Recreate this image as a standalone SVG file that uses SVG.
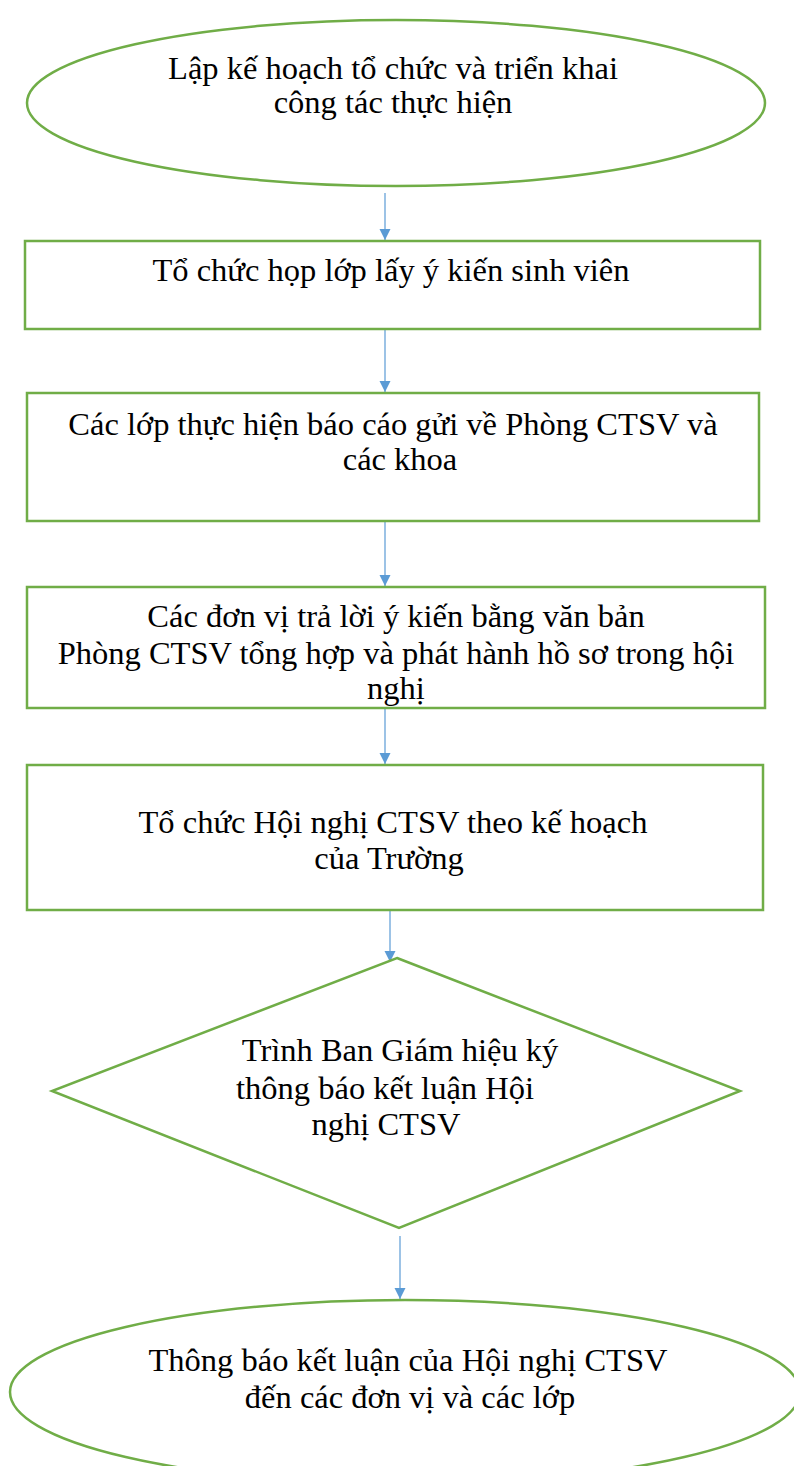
<svg xmlns="http://www.w3.org/2000/svg" width="794" height="1466" viewBox="0 0 794 1466">
<style>
.s{fill:#fff;stroke:#70AD47;stroke-width:2.5}
.t{font-family:"Liberation Serif","Times New Roman",serif;font-size:32.5px;fill:#000;text-anchor:middle}
.c{stroke:#5B9BD5;stroke-width:1.2;fill:none;marker-end:url(#ah)}
</style>
<defs>
<marker id="ah" markerWidth="12" markerHeight="12" refX="11" refY="5.5" orient="auto" markerUnits="userSpaceOnUse">
<path d="M0,0 L11,5.5 L0,11 Z" fill="#5B9BD5"/>
</marker>
</defs>
<g id="connectors">
<path class="c" d="M385,193 V240"/>
<path class="c" d="M385,330 V392"/>
<path class="c" d="M385,522 V586"/>
<path class="c" d="M385,709 V764"/>
<path class="c" d="M390,911 V962"/>
<path class="c" d="M400,1236 V1299"/>
</g>
<g id="n1">
<ellipse class="s" cx="396" cy="103" rx="369" ry="83"/>
<text class="t" x="393" y="79">Lập kế hoạch tổ chức và triển khai</text>
<text class="t" x="393" y="113">công tác thực hiện</text>
</g>
<g id="n2">
<rect class="s" x="25" y="241" width="735" height="88"/>
<text class="t" x="391" y="281">Tổ chức họp lớp lấy ý kiến sinh viên</text>
</g>
<g id="n3">
<rect class="s" x="27" y="393" width="732" height="128"/>
<text class="t" x="393" y="435">Các lớp thực hiện báo cáo gửi về Phòng CTSV và</text>
<text class="t" x="400" y="470">các khoa</text>
</g>
<g id="n4">
<rect class="s" x="27" y="587" width="738" height="121"/>
<text class="t" x="396" y="627">Các đơn vị trả lời ý kiến bằng văn bản</text>
<text class="t" x="396" y="664">Phòng CTSV tổng hợp và phát hành hồ sơ trong hội</text>
<text class="t" x="396" y="699">nghị</text>
</g>
<g id="n5">
<rect class="s" x="27" y="765" width="736" height="145"/>
<text class="t" x="393" y="833">Tổ chức Hội nghị CTSV theo kế hoạch</text>
<text class="t" x="389" y="869">của Trường</text>
</g>
<g id="n6">
<polygon class="s" points="397,958 740,1091 399,1228 52,1091"/>
<text class="t" x="400" y="1061">Trình Ban Giám hiệu ký</text>
<text class="t" x="385" y="1099">thông báo kết luận Hội</text>
<text class="t" x="386" y="1135">nghị CTSV</text>
</g>
<g id="n7">
<ellipse class="s" cx="405" cy="1392" rx="395" ry="92"/>
<text class="t" x="408" y="1371">Thông báo kết luận của Hội nghị CTSV</text>
<text class="t" x="410" y="1408">đến các đơn vị và các lớp</text>
</g>
</svg>
